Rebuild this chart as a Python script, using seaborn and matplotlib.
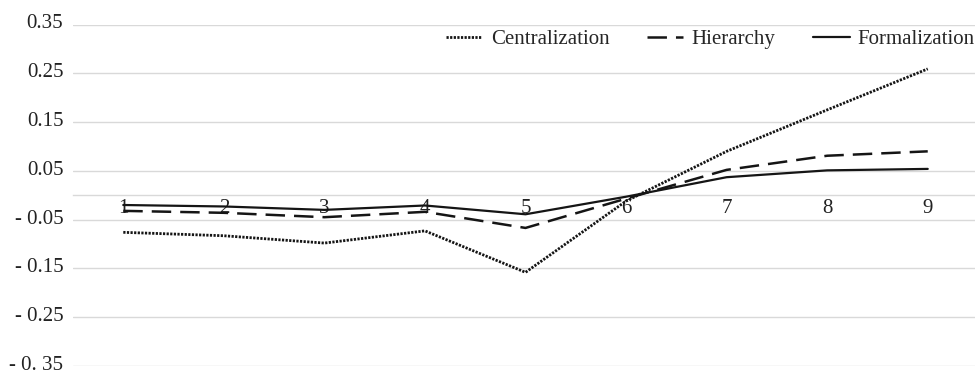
import matplotlib
matplotlib.use('Agg')
import matplotlib.pyplot as plt
import matplotlib.transforms as mtransforms
import seaborn as sns
import pandas as pd

# --- data ---
steps = [1, 2, 3, 4, 5, 6, 7, 8, 9]
step_labels = ['1', '2', '3', '4', '5', '6', '7', '8', '9']
centralization = [-0.076, -0.083, -0.098, -0.073, -0.158, -0.012, 0.090, 0.175, 0.259]
hierarchy = [-0.032, -0.036, -0.045, -0.034, -0.067, -0.007, 0.052, 0.081, 0.090]
formalization = [-0.020, -0.023, -0.030, -0.021, -0.039, -0.003, 0.037, 0.051, 0.054]
series_names = ['Centralization', 'Hierarchy', 'Formalization']
y_ticks = [0.35, 0.25, 0.15, 0.05, -0.05, -0.15, -0.25, -0.35]
y_tick_labels = ['0.35', '0.25', '0.15', '0.05', '- 0.05', '- 0.15', '- 0.25', '- 0. 35']

df = pd.DataFrame({
    'step': steps * 3,
    'value': centralization + hierarchy + formalization,
    'series': [s for s in series_names for _ in steps],
})

sns.set_style('white')
plt.rcParams['font.family'] = ['Liberation Serif', 'DejaVu Serif']
plt.rcParams['lines.scale_dashes'] = False
FS = 15

line_color = '#151515'
styles = {
    'Centralization': (0, (1.6, 1.0)),
    'Hierarchy': (0, (14, 6.5)),
    'Formalization': '-',
}
widths = {'Centralization': 2.0, 'Hierarchy': 1.8, 'Formalization': 1.6}

fig = plt.figure(figsize=(9.75, 3.7), dpi=100)
ax = fig.add_axes([73 / 975, 4 / 370, 902 / 975, 341.5 / 370])

for name in series_names:
    sub = df[df['series'] == name]
    sns.lineplot(data=sub, x='step', y='value', ax=ax, color=line_color,
                 linestyle=styles[name], linewidth=widths[name], label=name)

ax.set_xlim(0.5, 9.47)
ax.set_ylim(-0.35, 0.35)
ax.set_yticks(y_ticks)
ax.set_yticklabels(y_tick_labels)
ax.set_xticks(steps)
ax.set_xticklabels(step_labels)
ax.set_xlabel('')
ax.set_ylabel('')

ax.grid(axis='y', color='#d9d9d9', linewidth=1.0)
ax.grid(axis='x', visible=False)
ax.set_axisbelow(True)
for side in ['top', 'right', 'left']:
    ax.spines[side].set_visible(False)
ax.spines['bottom'].set_position(('data', 0))
ax.spines['bottom'].set_color('#d9d9d9')
ax.spines['bottom'].set_linewidth(1.0)
ax.spines['bottom'].set_zorder(0.5)

ax.tick_params(axis='y', length=0, pad=7, labelsize=FS, labelcolor='#222222')
ax.tick_params(axis='x', length=0, pad=2.5, labelsize=FS, labelcolor='#222222')

# y labels sit a little above their gridlines in the reference
shift = mtransforms.ScaledTranslation(0, 0.03, fig.dpi_scale_trans)
for lbl in ax.get_yticklabels():
    lbl.set_transform(lbl.get_transform() + shift)

ax.get_legend().remove()
handles, labels = ax.get_legend_handles_labels()
fig.legend(handles, labels, loc='center right', bbox_to_anchor=(1.0, 1 - 39 / 370),
           ncol=3, frameon=False, fontsize=FS, handlelength=1.75,
           handletextpad=0.4, columnspacing=1.8, borderpad=0, borderaxespad=0)

fig.savefig('out.png', dpi=100)
